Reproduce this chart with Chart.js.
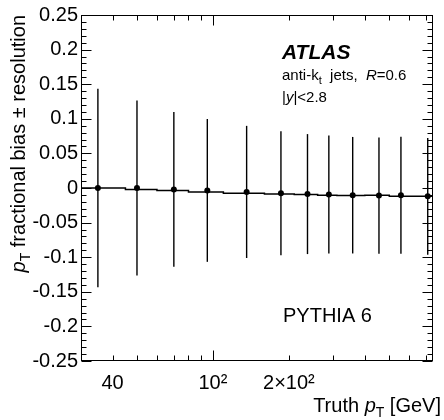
<!DOCTYPE html>
<html><head><meta charset="utf-8">
<script src="https://cdn.jsdelivr.net/npm/chart.js@4/dist/chart.umd.min.js"></script>
<style>html,body{margin:0;padding:0;background:#fff}#wrap{width:444px;height:420px}</style>
</head><body><div id="wrap"><canvas id="c" width="444" height="420"></canvas></div>
<script>
// === Data ===
const truthPt  = [35, 50, 70, 95, 136, 186, 237, 288, 358, 455, 556, 710];
const bias     = [0.000, 0.000, -0.002, -0.0035, -0.0057, -0.0076, -0.0088, -0.0094, -0.0104, -0.011, -0.0105, -0.012];
const resol    = [0.1434, 0.1265, 0.1117, 0.1032, 0.0955, 0.0896, 0.0867, 0.0852, 0.0842, 0.084, 0.0845, 0.0843];
const binEdges = [30, 45, 60, 80, 110, 160, 210, 260, 310, 400, 500, 600, 800];
const xTickVals = [40, 100, 200];
const xTickText = ['40', '10²', '2×10²'];
const xMinor = [40, 50, 60, 70, 80, 90, 200, 300, 400, 500, 600, 700];
const xMajor = [100];
const yTickVals = [-0.25, -0.2, -0.15, -0.1, -0.05, 0, 0.05, 0.1, 0.15, 0.2, 0.25];
const yTickText = ['-0.25', '-0.2', '-0.15', '-0.1', '-0.05', '0', '0.05', '0.1', '0.15', '0.2', '0.25'];

const FONT = '"Liberation Sans", Arial, Helvetica, sans-serif';

// === helpers ===
function rich(ctx, x, y, parts){
  let cx = x;
  parts.forEach(p=>{ ctx.font = p.f; ctx.fillText(p.t, cx, y + (p.dy||0)); cx += ctx.measureText(p.t).width; });
  return cx - x;
}
function richWidth(ctx, parts){
  let w = 0; parts.forEach(p=>{ ctx.font = p.f; w += ctx.measureText(p.t).width; }); return w;
}

// === frame, inward ticks on all four sides ===
const framePlugin = {
  id: 'frame',
  afterDraw(ch){
    const {ctx, chartArea: a, scales: {x, y}} = ch;
    ctx.save();
    ctx.strokeStyle = '#000'; ctx.lineWidth = 1;
    const L = a.left + .5, R = a.right - .5, T = a.top + .5, B = a.bottom - .5;
    ctx.strokeRect(L, T, R - L, B - T);
    ctx.beginPath();
    const xt = (v, len)=>{ const px = Math.round(x.getPixelForValue(v)) + .5;
      ctx.moveTo(px, B); ctx.lineTo(px, B - len); ctx.moveTo(px, T); ctx.lineTo(px, T + len); };
    xMinor.forEach(v=>xt(v, 5)); xMajor.forEach(v=>xt(v, 10));
    for (let i = -25; i <= 25; i++) {
      const py = Math.round(y.getPixelForValue(i / 100)) + .5;
      const len = (i % 5 === 0) ? 10 : 5;
      ctx.moveTo(L, py); ctx.lineTo(L + len, py);
      ctx.moveTo(R, py); ctx.lineTo(R - len, py);
    }
    ctx.stroke();

    // labels
    ctx.fillStyle = '#000'; ctx.textBaseline = 'alphabetic'; ctx.textAlign = 'left';
    ctx.font = `italic bold 21px ${FONT}`; ctx.fillText('ATLAS', 282, 59);
    rich(ctx, 282, 80, [
      {t: 'anti-k', f: `15px ${FONT}`},
      {t: 't', f: `11px ${FONT}`, dy: 4},
      {t: '  jets,  ', f: `15px ${FONT}`},
      {t: 'R', f: `italic 15px ${FONT}`},
      {t: '=0.6', f: `15px ${FONT}`}
    ]);
    rich(ctx, 282, 101.5, [
      {t: '|', f: `15px ${FONT}`},
      {t: 'y', f: `italic 15px ${FONT}`},
      {t: '|<2.8', f: `15px ${FONT}`}
    ]);
    ctx.font = `20px ${FONT}`; ctx.fillText('PYTHIA 6', 283, 321.5);

    // x title
    const xt2 = [
      {t: 'Truth ', f: `20px ${FONT}`},
      {t: 'p', f: `italic 20px ${FONT}`},
      {t: 'T', f: `14px ${FONT}`, dy: 5},
      {t: ' [GeV]', f: `20px ${FONT}`}
    ];
    rich(ctx, 441 - richWidth(ctx, xt2), 412, xt2);

    // y title
    const yt = [
      {t: 'p', f: `italic 20px ${FONT}`},
      {t: 'T', f: `14px ${FONT}`, dy: 5},
      {t: ' fractional bias \u00b1 resolution', f: `20px ${FONT}`}
    ];
    ctx.translate(25, a.top);
    ctx.rotate(-Math.PI / 2);
    rich(ctx, -richWidth(ctx, yt), 0, yt);
    ctx.restore();
  }
};

// === datasets built from the arrays ===
const stepData = binEdges.map((e, i)=>({x: e, y: bias[Math.min(i, bias.length - 1)]}));
const errBars = truthPt.map((p, i)=>({
  type: 'line',
  data: [{x: p, y: bias[i] - resol[i]}, {x: p, y: bias[i] + resol[i]}],
  borderColor: '#000', borderWidth: 1.4, pointRadius: 0, order: 2
}));

new Chart(document.getElementById('c'), {
  type: 'scatter',
  data: {
    datasets: [
      {type: 'line', data: stepData, stepped: 'after', borderColor: '#000', borderWidth: 1.5, pointRadius: 0, order: 3},
      ...errBars,
      {type: 'scatter', data: truthPt.map((p, i)=>({x: p, y: bias[i]})), pointRadius: 3, pointBackgroundColor: '#000', pointBorderColor: '#000', pointBorderWidth: 0, order: 1}
    ]
  },
  options: {
    responsive: false, animation: false,
    layout: {padding: {left: 0, right: 11, top: 15, bottom: 0}},
    plugins: {legend: {display: false}, tooltip: {enabled: false}},
    scales: {
      x: {
        type: 'logarithmic', min: 30, max: 745,
        grid: {display: false, drawTicks: false}, border: {display: false},
        afterBuildTicks: s=>{ s.ticks = xTickVals.map(v=>({value: v})); },
        afterFit: s=>{ s.height = 59; },
        ticks: {
          autoSkip: false, maxRotation: 0, padding: 10, color: '#000',
          font: {family: FONT, size: 20},
          callback: (v)=>{ const k = xTickVals.indexOf(v); return k >= 0 ? xTickText[k] : ''; }
        }
      },
      y: {
        min: -0.25, max: 0.25,
        grid: {display: false, drawTicks: false}, border: {display: false},
        afterBuildTicks: s=>{ s.ticks = yTickVals.map(v=>({value: v})); },
        afterFit: s=>{ s.width = 81; },
        ticks: {
          autoSkip: false, padding: 3, color: '#000',
          font: {family: FONT, size: 20},
          callback: (v)=>{ const k = yTickVals.findIndex(t=>Math.abs(t - v) < 1e-9); return k >= 0 ? yTickText[k] : ''; }
        }
      }
    }
  },
  plugins: [framePlugin]
});
</script>
</body></html>
